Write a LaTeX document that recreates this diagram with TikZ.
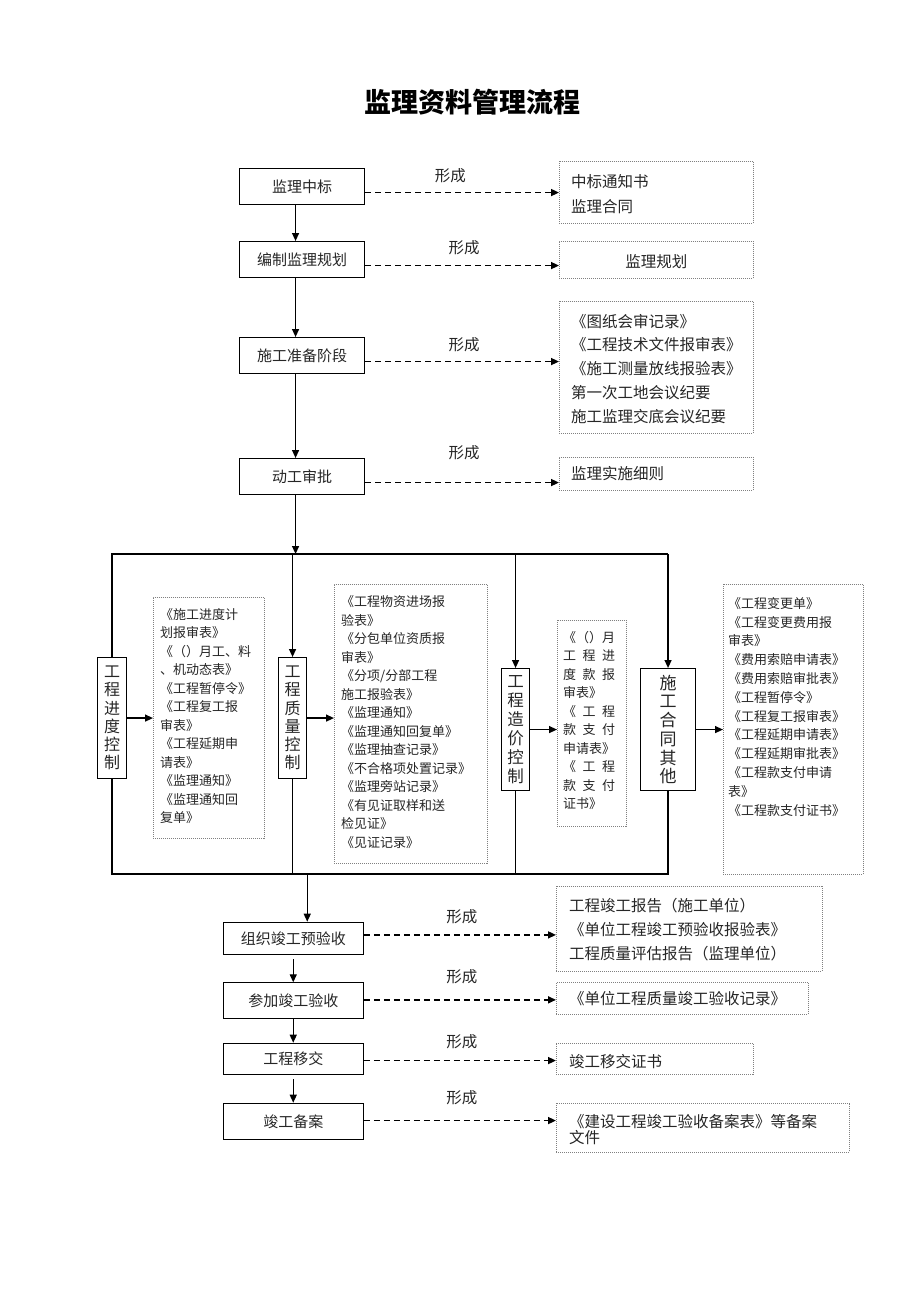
\documentclass[tikz,border=0pt]{standalone}
\usepackage{fontspec}
\setmainfont{Noto Sans CJK SC}
\usetikzlibrary{arrows.meta}
\begin{document}
\begin{tikzpicture}[x=1pt,y=-1pt,
  mbox/.style={draw, line width=1.1pt, anchor=north west, inner sep=0pt, minimum width=125pt, minimum height=36pt, font=\fontsize{15}{18}\selectfont, text=black!85},
  bbox/.style={mbox, minimum width=140pt},
  vbox/.style={draw, line width=1.1pt, anchor=north west, inner sep=0pt, align=center, font=\fontsize{16}{18.3}\selectfont, text=black!85},
  dbox/.style={draw=black!50, line width=0.6pt, dash pattern=on 1pt off 1pt, anchor=north west, inner sep=0pt},
  ltxt/.style={anchor=north west, inner sep=0pt, align=left, font=\fontsize{13}{18.5}\selectfont, text=black!85},
  dtxt/.style={inner sep=0pt, align=left, font=\fontsize{15.5}{24}\selectfont, text=black!85},
  arr/.style={line width=1.3pt, -{Triangle[length=8pt,width=7pt]}},
  darr/.style={line width=1.6pt, dash pattern=on 6pt off 4pt, -{Triangle[length=8pt,width=7pt]}},
  lbl/.style={font=\fontsize{15.5}{18}\selectfont, text=black!85, inner sep=0pt},
  conn/.style={line width=1.3pt}
]
\useasboundingbox (0,0) rectangle (920,1302);
\fill[white] (0,0) rectangle (920,1302);

\node[font=\fontsize{27}{30}\selectfont\bfseries, text=black] (title) at (472.7,101.7) {监理资料管理流程};

% upper column
\node[mbox] (m1) at (239,168) {监理中标};
\node[mbox] (m2) at (239,241) {编制监理规划};
\node[mbox] (m3) at (239,337) {施工准备阶段};
\node[mbox] (m4) at (239,458) {动工审批};

\coordinate (busY) at (0,554);
\coordinate (botY) at (0,874);

\draw[arr] ([xshift=-6.5pt]m1.south) -- ([xshift=-6.5pt]m2.north);
\draw[arr] ([xshift=-6.5pt]m2.south) -- ([xshift=-6.5pt]m3.north);
\draw[arr] ([xshift=-6.5pt]m3.south) -- ([xshift=-6.5pt]m4.north);
\draw[arr] ([xshift=-6.5pt]m4.south) -- ([xshift=-6.5pt]m4.south |- busY);

% upper outputs
\node[dbox, minimum width=194pt, minimum height=62pt] (d1) at (559,161) {};
\node[dtxt, anchor=north west, font=\fontsize{15.5}{25}\selectfont] (d1t) at ([xshift=12pt,yshift=-13.7pt]d1.north west) {中标通知书\\监理合同};
\node[dbox, minimum width=194pt, minimum height=37pt] (d2) at (559,241) {};
\node[dtxt] (d2t) at ([yshift=-1.5pt]d2.center) {监理规划};
\node[dbox, minimum width=194pt, minimum height=132pt] (d3) at (559,301) {};
\node[dtxt, anchor=north west, font=\fontsize{15.5}{23.8}\selectfont] (d3t) at ([xshift=12pt,yshift=-12.7pt]d3.north west) {《图纸会审记录》\\《工程技术文件报审表》\\《施工测量放线报验表》\\第一次工地会议纪要\\施工监理交底会议纪要};
\node[dbox, minimum width=194pt, minimum height=33pt] (d4) at (559,457) {};
\node[dtxt, anchor=west] (d4t) at ([xshift=12pt]d4.west) {监理实施细则};

\draw[darr] ([yshift=-6pt]m1.east) -- ([yshift=-6pt]m1.east -| d1.west);
\draw[darr] ([yshift=-6pt]m2.east) -- ([yshift=-6pt]m2.east -| d2.west);
\draw[darr] ([yshift=-6pt]m3.east) -- ([yshift=-6pt]m3.east -| d3.west);
\draw[darr] ([yshift=-6pt]m4.east) -- ([yshift=-6pt]m4.east -| d4.west);

\node[lbl] (f1) at (450.4,176) {形成};
\node[lbl] (f2) at (464,248) {形成};
\node[lbl] (f3) at (464,345) {形成};
\node[lbl] (f4) at (464,453) {形成};

% middle section
\node[vbox, minimum width=29pt, minimum height=121pt] (v1) at (97,657) {工\\程\\进\\度\\控\\制};
\node[vbox, minimum width=28pt, minimum height=121pt] (v2) at (278,657) {工\\程\\质\\量\\控\\制};
\node[vbox, minimum width=28pt, minimum height=122pt, font=\fontsize{16.5}{19}\selectfont] (v3) at (501,668) {工\\程\\造\\价\\控\\制};
\node[vbox, minimum width=55pt, minimum height=122pt, font=\fontsize{17}{18.7}\selectfont] (v4) at (640,668) {施\\工\\合\\同\\其\\他};

\draw[conn] (v1.north) -- (v1.north |- busY) -- (v4.north |- busY);
\draw[arr] (v2.north |- busY) -- (v2.north);
\draw[arr] (v3.north |- busY) -- (v3.north);
\draw[arr] (v4.north |- busY) -- (v4.north);
\draw[conn] (v1.south) -- (v1.south |- botY) -- (v4.south |- botY) -- (v4.south);
\draw[conn] (v2.south) -- (v2.south |- botY);
\draw[conn] (v3.south) -- (v3.south |- botY);

\node[dbox, minimum width=111pt, minimum height=241pt] (l1) at (153,597) {};
\node[ltxt] (l1t) at ([xshift=7pt,yshift=-11pt]l1.north west) {《施工进度计\\划报审表》\\《（）月工、料\\、机动态表》\\《工程暂停令》\\《工程复工报\\审表》\\《工程延期申\\请表》\\《监理通知》\\《监理通知回\\复单》};
\node[dbox, minimum width=153pt, minimum height=279pt] (l2) at (334,584) {};
\node[ltxt] (l2t) at ([xshift=7pt,yshift=-11.7pt]l2.north west) {《工程物资进场报\\验表》\\《分包单位资质报\\审表》\\《分项/分部工程\\施工报验表》\\《监理通知》\\《监理通知回复单》\\《监理抽查记录》\\《不合格项处置记录》\\《监理旁站记录》\\《有见证取样和送\\检见证》\\《见证记录》};
\node[dbox, minimum width=69pt, minimum height=206pt] (l3) at (557,620) {};
\node[ltxt] (l3t) at ([xshift=6pt,yshift=-10.7pt]l3.north west) {《（）月\\\makebox[52pt][s]{工\hfill 程\hfill 进}\\\makebox[52pt][s]{度\hfill 款\hfill 报}\\审表》\\\makebox[52pt][s]{《\hfill 工\hfill 程}\\\makebox[52pt][s]{款\hfill 支\hfill 付}\\申请表》\\\makebox[52pt][s]{《\hfill 工\hfill 程}\\\makebox[52pt][s]{款\hfill 支\hfill 付}\\证书》};
\node[dbox, minimum width=140pt, minimum height=290pt] (l4) at (723,584) {};
\node[ltxt, font=\fontsize{13}{18.8}\selectfont] (l4t) at ([xshift=5pt,yshift=-13pt]l4.north west) {《工程变更单》\\《工程变更费用报\\审表》\\《费用索赔申请表》\\《费用索赔审批表》\\《工程暂停令》\\《工程复工报审表》\\《工程延期申请表》\\《工程延期审批表》\\《工程款支付申请\\表》\\《工程款支付证书》};

\draw[arr] (v1.east) -- (v1.east -| l1.west);
\draw[arr] (v2.east) -- (v2.east -| l2.west);
\draw[arr] (v3.east) -- (v3.east -| l3.west);
\draw[arr] (v4.east) -- (v4.east -| l4.west);

% lower column
\node[bbox, minimum height=32.3pt] (b1) at (222.7,921.7) {组织竣工预验收};
\node[bbox, minimum height=36pt] (b2) at (222.7,982.3) {参加竣工验收};
\node[bbox, minimum height=31.6pt] (b3) at (222.7,1042.7) {工程移交};
\node[bbox, minimum height=36.6pt] (b4) at (222.7,1102.7) {竣工备案};
\draw[arr] ([xshift=14pt]b1.north |- botY) -- ([xshift=14pt]b1.north);
\draw[arr, shorten <=4pt] (b1.south) -- (b2.north);
\draw[arr] (b2.south) -- (b3.north);
\draw[arr, shorten <=4pt] (b3.south) -- (b4.north);

\node[dbox, minimum width=265.7pt, minimum height=84.7pt] (e1) at (556,886) {};
\node[dtxt, anchor=north west, font=\fontsize{15.5}{24.2}\selectfont] (e1t) at ([xshift=13pt,yshift=-12pt]e1.north west) {工程竣工报告（施工单位）\\《单位工程竣工预验收报验表》\\工程质量评估报告（监理单位）};
\node[dbox, minimum width=251.7pt, minimum height=32pt] (e2) at (556,982.3) {};
\node[dtxt, anchor=west] (e2t) at ([xshift=13pt]e2.west) {《单位工程质量竣工验收记录》};
\node[dbox, minimum width=196.7pt, minimum height=31.3pt] (e3) at (556,1042.7) {};
\node[dtxt, anchor=west] (e3t) at ([xshift=13pt,yshift=-3pt]e3.west) {竣工移交证书};
\node[dbox, minimum width=293.3pt, minimum height=49pt] (e4) at (556,1102.7) {};
\node[dtxt, anchor=north west, font=\fontsize{15.5}{16.5}\selectfont] (e4t) at ([xshift=13pt,yshift=-11pt]e4.north west) {《建设工程竣工验收备案表》等备案\\文件};

\draw[darr] ([yshift=3.5pt]b1.east) -- ([yshift=3.5pt]b1.east -| e1.west);
\draw[darr] ([yshift=1pt]b2.east) -- ([yshift=1pt]b2.east -| e2.west);
\draw[darr] ([yshift=-1.5pt]b3.east) -- ([yshift=-1.5pt]b3.east -| e3.west);
\draw[darr] ([yshift=1pt]b4.east) -- ([yshift=1pt]b4.east -| e4.west);

\node[lbl] (g1) at (461.8,916.7) {形成};
\node[lbl] (g2) at (461.8,976.7) {形成};
\node[lbl] (g3) at (461.8,1041.7) {形成};
\node[lbl] (g4) at (461.8,1097.7) {形成};
\end{tikzpicture}
\end{document}
